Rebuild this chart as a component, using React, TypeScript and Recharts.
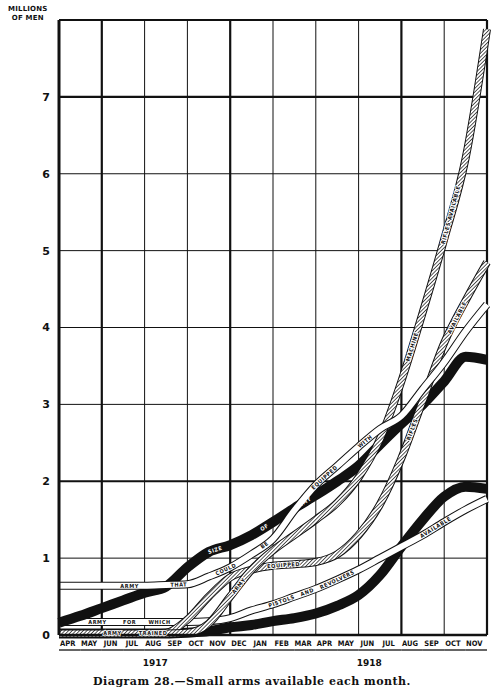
import React from 'react'
import { LineChart, Line, XAxis, YAxis, CartesianGrid } from 'recharts'

// month index 0 = start of April 1917, 20 = end of November 1918
const monthIndex = [0, 1, 2, 3, 4, 5, 6, 7, 8, 9, 10, 11, 12, 13, 14, 15, 16, 17, 18, 19, 20]
const monthLabels = ['APR', 'MAY', 'JUN', 'JUL', 'AUG', 'SEP', 'OCT', 'NOV', 'DEC', 'JAN', 'FEB', 'MAR', 'APR', 'MAY', 'JUN', 'JUL', 'AUG', 'SEP', 'OCT', 'NOV']
const monthTicks = [0.5, 1.5, 2.5, 3.5, 4.5, 5.5, 6.5, 7.5, 8.5, 9.5, 10.5, 11.5, 12.5, 13.5, 14.5, 15.5, 16.5, 17.5, 18.5, 19.5]
const yearLabels = [
  { tick: 4.5, text: '1917' },
  { tick: 14.5, text: '1918' },
]
const yTicks = [0, 1, 2, 3, 4, 5, 6, 7]

// millions of men
const armySize = [0.16, 0.25, 0.35, 0.45, 0.55, 0.63, 0.88, 1.08, 1.17, 1.3, 1.47, 1.65, 1.82, 2.0, 2.2, 2.48, 2.75, 3.0, 3.3, 3.62, 3.58]
const rifleArmy = [0.64, 0.64, 0.64, 0.64, 0.64, 0.65, 0.66, 0.76, 0.88, 1.05, 1.25, 1.62, 1.95, 2.2, 2.45, 2.68, 2.85, 3.2, 3.55, 3.95, 4.3]
const machineArmy = [0.02, 0.02, 0.02, 0.02, 0.02, 0.02, 0.03, 0.15, 0.5, 0.85, 1.1, 1.3, 1.5, 1.72, 2.05, 2.55, 3.3, 4.2, 5.15, 6.2, 7.88]
const equippedArmy = [0.02, 0.02, 0.02, 0.02, 0.02, 0.03, 0.2, 0.5, 0.75, 0.85, 0.9, 0.92, 0.95, 1.05, 1.3, 1.7, 2.3, 3.05, 3.8, 4.35, 4.85]
const pistolArmy = [0.17, 0.17, 0.17, 0.17, 0.17, 0.17, 0.17, 0.18, 0.22, 0.32, 0.4, 0.5, 0.6, 0.72, 0.85, 1.0, 1.15, 1.3, 1.47, 1.63, 1.77]
const trainedArmy = [0.02, 0.02, 0.02, 0.02, 0.02, 0.02, 0.03, 0.05, 0.1, 0.13, 0.18, 0.22, 0.28, 0.38, 0.52, 0.78, 1.15, 1.5, 1.8, 1.93, 1.9]

// words lettered inside the bands, t = position along the month axis
const armyWords = [
  { t: 7.3, text: 'SIZE' },
  { t: 9.6, text: 'OF' },
  { t: 11.4, text: 'ARMY' },
]
const rifleWords = [
  { t: 3.3, text: 'ARMY' },
  { t: 5.6, text: 'THAT' },
  { t: 7.8, text: 'COULD' },
  { t: 9.6, text: 'BE' },
  { t: 12.4, text: 'EQUIPPED' },
  { t: 14.3, text: 'WITH' },
]
const machineWords = [
  { t: 2.5, text: 'ARMY' },
  { t: 4.4, text: 'TRAINED' },
  { t: 8.4, text: 'ARMY' },
  { t: 16.5, text: 'MACHINE' },
  { t: 18.3, text: 'RIFLES AVAILABLE' },
]
const equippedWords = [
  { t: 10.5, text: 'EQUIPPED' },
  { t: 16.5, text: 'RIFLES' },
  { t: 18.6, text: 'AVAILABLE' },
]
const pistolWords = [
  { t: 1.8, text: 'ARMY' },
  { t: 3.3, text: 'FOR' },
  { t: 4.7, text: 'WHICH' },
  { t: 10.4, text: 'PISTOLS' },
  { t: 11.6, text: 'AND' },
  { t: 13.0, text: 'REVOLVERS' },
  { t: 17.6, text: 'AVAILABLE' },
]

const data = monthIndex.map((m, i) => ({
  m,
  army: armySize[i],
  rifle: rifleArmy[i],
  machine: machineArmy[i],
  equipped: equippedArmy[i],
  pistol: pistolArmy[i],
  trained: trainedArmy[i],
}))

const INK = '#111'
const labelFont = 'DejaVu Sans Condensed, DejaVu Sans, sans-serif'

function bandLabels(words: { t: number; text: string }[], color: string, halo: string | null, name: string) {
  return (props: any) => {
    const { index, points } = props
    const mine = words.filter((w) => Math.floor(w.t) === index)
    if (!mine.length || !points) return <g key={`${name}-${index}`} />
    const p0 = points[index]
    const p1 = points[index + 1] ?? p0
    return (
      <g key={`${name}-${index}`}>
        {mine.map((w) => {
          const f = w.t - index
          const x = p0.x + (p1.x - p0.x) * f
          const y = p0.y + (p1.y - p0.y) * f
          const angle = (Math.atan2(p1.y - p0.y, p1.x - p0.x) * 180) / Math.PI
          return (
            <text
              key={w.text + w.t}
              x={x}
              y={y}
              transform={`rotate(${angle} ${x} ${y})`}
              textAnchor="middle"
              dominantBaseline="central"
              fontFamily={labelFont}
              fontWeight="bold"
              fontSize={5.5}
              letterSpacing={0.6}
              fill={color}
              stroke={halo ?? 'none'}
              strokeWidth={halo ? 1.6 : 0}
              paintOrder="stroke"
            >
              {w.text}
            </text>
          )
        })}
      </g>
    )
  }
}

function band(key: string, kind: 'black' | 'white' | 'hatch', words: { t: number; text: string }[], width: number) {
  const common = { type: 'monotone' as const, dataKey: key, isAnimationActive: false, activeDot: false }
  if (kind === 'black') {
    return [
      <Line key={key + 'a'} {...common} stroke={INK} strokeWidth={width} dot={bandLabels(words, '#fff', null, key)} />,
    ]
  }
  return [
    <Line key={key + 'a'} {...common} stroke={INK} strokeWidth={width} dot={false} />,
    <Line
      key={key + 'b'}
      {...common}
      stroke={kind === 'white' ? '#fff' : 'url(#hatch)'}
      strokeWidth={width - 2}
      dot={bandLabels(words, INK, kind === 'hatch' ? '#fff' : null, key)}
    />,
  ]
}

function MonthTick(props: any) {
  const { x, y, payload } = props
  const i = Math.floor(payload.value)
  const half = (487 - 59) / 40
  const year = yearLabels.find((yl) => yl.tick === payload.value)
  return (
    <g>
      <text x={x - 2} y={y + 11} textAnchor="middle" fontFamily={labelFont} fontWeight="bold" fontSize={7.5} fill={INK}>
        {monthLabels[i]}
      </text>
      <line x1={x - half} x2={x + half} y1={y + 15} y2={y + 15} stroke={INK} strokeWidth={1.3} />
      {year && (
        <text x={x} y={y + 31} textAnchor="middle" fontFamily="DejaVu Sans, sans-serif" fontWeight="bold" fontSize={9} fill={INK}>
          {year.text}
        </text>
      )}
    </g>
  )
}

export default function App() {
  return (
    <div style={{ position: 'absolute', left: 0, top: 0, width: 504, height: 692, background: '#fff' }}>
      <svg width={0} height={0} style={{ position: 'absolute' }}>
        <defs>
          <pattern id="hatch" width={2.6} height={2.6} patternUnits="userSpaceOnUse" patternTransform="rotate(45)">
            <rect width={2.6} height={2.6} fill="#fff" />
            <line x1={0} y1={0} x2={0} y2={2.6} stroke={INK} strokeWidth={1.4} />
          </pattern>
        </defs>
      </svg>
      <div
        style={{
          position: 'absolute',
          left: 8,
          top: 5,
          fontFamily: 'DejaVu Sans, sans-serif',
          fontWeight: 'bold',
          fontSize: 7,
          lineHeight: '9px',
          textAlign: 'center',
          color: INK,
          letterSpacing: 0.2,
        }}
      >
        MILLIONS
        <br />
        OF MEN
      </div>
      <LineChart width={504} height={692} data={data} margin={{ top: 20, right: 17, bottom: 27, left: 0 }}>
        <CartesianGrid
          stroke={INK}
          strokeWidth={1}
          horizontalValues={[1, 3, 4, 5, 6]}
          verticalValues={[4, 6, 10, 12, 14, 18]}
        />
        <CartesianGrid
          stroke={INK}
          strokeWidth={2.2}
          horizontalValues={[2, 7, 8]}
          verticalValues={[2, 8, 16, 20]}
        />
        <XAxis
          type="number"
          dataKey="m"
          domain={[0, 20]}
          ticks={monthTicks}
          interval={0}
          height={30}
          tickSize={0}
          tickMargin={0}
          tickLine={false}
          axisLine={{ stroke: INK, strokeWidth: 2.5 }}
          tick={<MonthTick />}
        />
        <YAxis
          type="number"
          domain={[0, 8]}
          ticks={yTicks}
          width={59}
          tickSize={0}
          tickMargin={9}
          tickLine={false}
          axisLine={{ stroke: INK, strokeWidth: 3 }}
          tick={{ fill: INK, fontSize: 11, fontWeight: 'bold', fontFamily: 'DejaVu Sans, sans-serif' }}
        />
        {band('trained', 'black', [], 10)}
        {band('pistol', 'white', pistolWords, 8)}
        {band('army', 'black', armyWords, 10)}
        {band('equipped', 'hatch', equippedWords, 8)}
        {band('machine', 'hatch', machineWords, 8)}
        {band('rifle', 'white', rifleWords, 8)}
      </LineChart>
      <div
        style={{
          position: 'absolute',
          left: 0,
          width: 504,
          top: 675,
          textAlign: 'center',
          fontFamily: 'DejaVu Serif, serif',
          fontWeight: 'bold',
          fontSize: 11,
          letterSpacing: 0.5,
          color: INK,
        }}
      >
        Diagram 28.—Small arms available each month.
      </div>
    </div>
  )
}
